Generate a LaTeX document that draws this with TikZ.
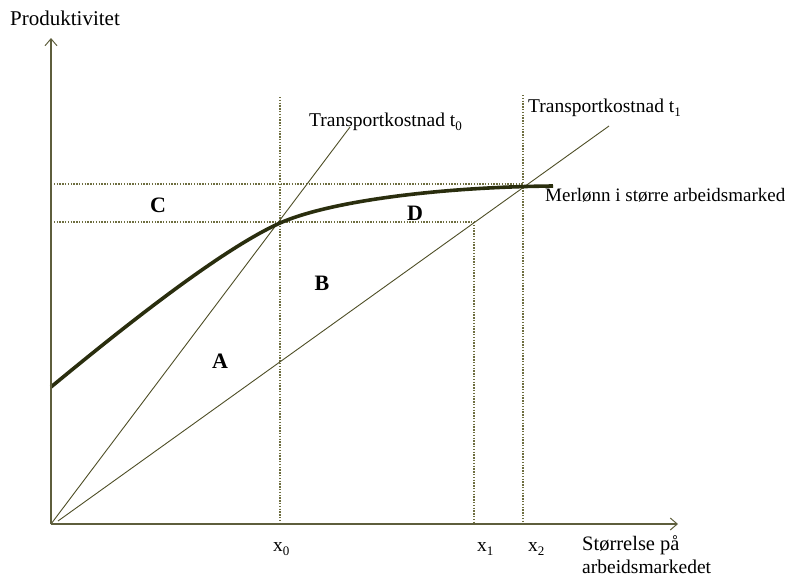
\documentclass[tikz,border=0pt]{standalone}
\usepackage{fontspec}
\setmainfont{Liberation Serif}
\usetikzlibrary{arrows.meta}
\definecolor{axiscol}{HTML}{5E5E3C}
\definecolor{linecol}{HTML}{4E4E26}
\definecolor{curvecol}{HTML}{2A2E0E}
\definecolor{dotcol}{HTML}{6E6E40}
\newcommand{\lbl}{\fontsize{19.5}{21}\selectfont}
\newcommand{\sbs}[1]{\raisebox{-4pt}{\fontsize{13}{13}\selectfont #1}}
\tikzset{
  axisline/.style={draw=axiscol, line width=1.2pt, -{Straight Barb[length=7pt,width=12pt,line width=1pt]}},
  costline/.style={draw=linecol, line width=0.9pt},
  guideline/.style={draw=dotcol, line width=1.2pt, dash pattern=on 1.4pt off 1.4pt},
  wagecurve/.style={draw=curvecol, line width=3.6pt},
  txt/.style={font=\lbl, inner sep=0pt, text=black},
  area/.style={font=\fontsize{22}{24}\selectfont\bfseries, inner sep=0pt, text=black}
}
\begin{document}
\begin{tikzpicture}[x=1pt,y=-1pt]
\useasboundingbox (0,0) rectangle (791,579);
% coordinates
\coordinate (O) at (51,524);
\coordinate (Ytop) at (51,38);
\coordinate (Xend) at (678,524);
\coordinate (T0s) at (51,524);
\coordinate (T0e) at (350,127);
\coordinate (T1s) at (58,521);
\coordinate (T1e) at (609,126);
\coordinate (X0top) at (280,97);
\coordinate (X0bot) at (280,524);
\coordinate (X1top) at (474,222);
\coordinate (X1bot) at (474,524);
\coordinate (X2top) at (523,95);
\coordinate (X2bot) at (523,524);
\coordinate (H1l) at (51,184);
\coordinate (H1r) at (523,184);
\coordinate (H2l) at (51,222);
\coordinate (H2r) at (474,222);
\coordinate (Cs) at (51,387);
\coordinate (Cm) at (280,223);
\coordinate (Ce) at (553,186);
% guides
\draw[guideline] (X0top) -- (X0bot);
\draw[guideline] (X1top) -- (X1bot);
\draw[guideline] (X2top) -- (X2bot);
\draw[guideline] (H1l) -- (H1r);
\draw[guideline] (H2l) -- (H2r);
% cost lines
\draw[costline] (T0s) -- (T0e);
\draw[costline] (T1s) -- (T1e);
% wage curve
\draw[wagecurve] (Cs) .. controls (120,330) and (220,250) .. (Cm)
  .. controls (330,201) and (440,187) .. (Ce);
% axes
\draw[axisline] (O) -- (Ytop);
\draw[axisline] (O) -- (Xend);
% labels
\node[txt, anchor=base west, font=\fontsize{21}{23}\selectfont] (ylab) at (10,25) {Produktivitet};
\node[txt, anchor=base west] (t0lab) at (309,126) {Transportkostnad t\sbs{0}};
\node[txt, anchor=base west] (t1lab) at (528,112) {Transportkostnad t\sbs{1}};
\node[txt, anchor=base west, font=\fontsize{19}{21}\selectfont] (wlab) at (545,201) {Merlønn i større arbeidsmarked};
\node[txt, anchor=base west] (x0lab) at (273,551) {x\sbs{0}};
\node[txt, anchor=base west] (x1lab) at (477,551) {x\sbs{1}};
\node[txt, anchor=base west] (x2lab) at (528,551) {x\sbs{2}};
\node[txt, anchor=base west, font=\fontsize{20.5}{22}\selectfont] (xlab) at (582,550) {Størrelse på};
\node[txt, anchor=base west] (xlab2) at (582,573) {arbeidsmarkedet};
\node[area] (A) at (220,361) {A};
\node[area] (B) at (322,283) {B};
\node[area] (C) at (158,205) {C};
\node[area] (D) at (415,213) {D};
\end{tikzpicture}
\end{document}
